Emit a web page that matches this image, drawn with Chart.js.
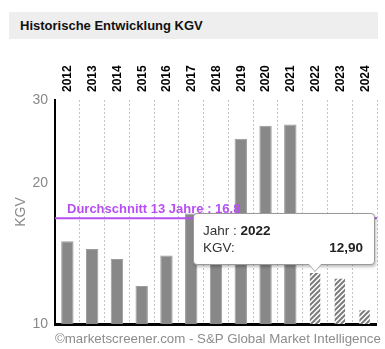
<!DOCTYPE html>
<html>
<head>
<meta charset="utf-8">
<script src="https://cdn.jsdelivr.net/npm/chart.js@4"></script>
<style>
  body { margin: 0; background: #fff; font-family: Arial, "Liberation Sans", sans-serif; }
  #wrap { position: relative; width: 385px; height: 349px; }
  #head {
    position: absolute; left: 9px; top: 12px; width: 358px; height: 27px;
    background: #eeeeee; padding-left: 11px;
    font-weight: bold; font-size: 13px; line-height: 27px; color: #111;
  }
  #foot {
    position: absolute; left: 55px; top: 331px;
    font-size: 13.3px; color: #8c8c8c; white-space: nowrap;
  }
  #tip {
    position: absolute; display: none; width: 160px; padding: 8px 11px 8px 9px;
    background: #fff; border: 1px solid #9a9a9a; border-radius: 4px;
    box-shadow: 1px 2px 3px rgba(0,0,0,0.25);
    font-size: 13.5px; color: #333; line-height: 17px;
  }
  #tip .row { display: flex; justify-content: space-between; }
  #tip b { color: #222; }
  #tip .caret, #tip .caret2 {
    position: absolute; width: 0; height: 0;
    border-left: 7px solid transparent; border-right: 7px solid transparent;
  }
  #tip .caret { bottom: -8px; border-top: 8px solid #9a9a9a; }
  #tip .caret2 { bottom: -7px; border-top: 8px solid #fff; }
</style>
</head>
<body>
<div id="wrap">
  <canvas id="c" width="385" height="349"></canvas>
  <div id="head">Historische Entwicklung KGV</div>
  <div id="foot">©marketscreener.com - S&amp;P Global Market Intelligence</div>
  <div id="tip"></div>
</div>
<script>
// values
const years = ['2012', '2013', '2014', '2015', '2016', '2017', '2018', '2019', '2020', '2021', '2022', '2023', '2024'];
const kgv = [15.0, 14.45, 13.75, 12.05, 14.0, 17.2, 16.5, 24.8, 26.45, 26.6, 12.9, 12.55, 10.75];
const firstForecast = 10; // 2022 onwards hatched
const avg = 16.8;
const avgLabel = 'Durchschnitt 13 Jahre : 16.8';
const yTicks = [10, 20, 30];
const tipIndex = 10;

const purple = '#b84ff2';
const font = 'Arial, "Liberation Sans", sans-serif';

function hatch() {
  const p = document.createElement('canvas');
  p.width = 5; p.height = 5;
  const g = p.getContext('2d');
  g.fillStyle = '#fff';
  g.fillRect(0, 0, 5, 5);
  g.strokeStyle = '#7c7c7c';
  g.lineWidth = 2;
  g.beginPath();
  g.moveTo(-1, 6); g.lineTo(6, -1);
  g.moveTo(-1, 1); g.lineTo(1, -1);
  g.moveTo(4, 6); g.lineTo(6, 4);
  g.stroke();
  return g.createPattern(p, 'repeat');
}
const pat = hatch();

const avgPlugin = {
  id: 'avgLine',
  afterDatasetsDraw(chart) {
    const {ctx, chartArea} = chart;
    const y = chart.scales.y.getPixelForValue(avg);
    ctx.save();
    ctx.strokeStyle = purple;
    ctx.lineWidth = 2;
    ctx.beginPath();
    ctx.moveTo(chartArea.left, y);
    ctx.lineTo(chartArea.right, y);
    ctx.stroke();
    ctx.fillStyle = purple;
    ctx.font = 'bold 13px ' + font;
    ctx.textBaseline = 'alphabetic';
    ctx.fillText(avgLabel, chartArea.left + 12, y - 5);
    ctx.restore();
  }
};

function externalTip(context) {
  const t = context.tooltip;
  const el = document.getElementById('tip');
  if (!t || t.opacity === 0 || !t.dataPoints || !t.dataPoints.length) { el.style.display = 'none'; return; }
  const dp = t.dataPoints[0];
  const i = dp.dataIndex;
  const shift = 122; // box sits left of the caret, as in the reference
  el.innerHTML =
    '<div>Jahr : <b>' + years[i] + '</b></div>' +
    '<div class="row"><span>KGV:</span><b>' + kgv[i].toFixed(2).replace('.', ',') + '</b></div>' +
    '<div class="caret" style="left:' + (shift - 8) + 'px"></div>' +
    '<div class="caret2" style="left:' + (shift - 8) + 'px"></div>';
  el.style.display = 'block';
  const bar = dp.element;
  const h = el.offsetHeight;
  el.style.left = (bar.x - shift) + 'px';
  el.style.top = (bar.y - h - 7) + 'px';
}

const chart = new Chart(document.getElementById('c'), {
  type: 'bar',
  data: {
    labels: years,
    datasets: [{
      data: kgv,
      backgroundColor: kgv.map((v, i) => i >= firstForecast ? pat : '#888888'),
      borderColor: kgv.map((v, i) => i >= firstForecast ? 'rgba(0,0,0,0)' : '#9c9c9c'),
      borderWidth: 1,
      barPercentage: 0.5,
      categoryPercentage: 1
    }]
  },
  options: {
    responsive: false,
    animation: false,
    events: [],
    layout: { padding: { left: 0, top: 45, right: 8, bottom: 25 } },
    plugins: {
      legend: { display: false },
      tooltip: { enabled: false, external: externalTip }
    },
    scales: {
      x: {
        position: 'top',
        grid: { color: '#c4c4c4', lineWidth: 1, drawTicks: false, offset: true },
        border: { display: false, dash: [2, 2] },
        ticks: {
          color: '#000', font: { family: font, size: 12, weight: 'bold' },
          minRotation: 90, maxRotation: 90, padding: 8, autoSkip: false,
          labelOffset: 15
        },
        afterFit(s) { s.height = 55; }
      },
      y: {
        type: 'logarithmic',
        min: 10, max: 30,
        afterBuildTicks(s) { s.ticks = yTicks.map(v => ({ value: v })); },
        grid: {
          drawTicks: false,
          lineWidth: 3,
          color: c => (c.tick && c.tick.value === 10) ? '#000' : 'rgba(0,0,0,0)'
        },
        border: { color: '#000', width: 2 },
        ticks: {
          color: '#888', font: { family: font, size: 14 }, padding: 7,
          callback: v => String(v)
        },
        title: {
          display: true, text: 'KGV', color: '#888',
          font: { family: font, size: 14 }, padding: { top: 13, bottom: 0 }
        },
        afterFit(s) { s.width = 55; }
      }
    }
  },
  plugins: [avgPlugin]
});

const bar = chart.getDatasetMeta(0).data[tipIndex];
chart.tooltip.setActiveElements([{ datasetIndex: 0, index: tipIndex }], { x: bar.x, y: bar.y });
chart.update();
</script>
</body>
</html>
